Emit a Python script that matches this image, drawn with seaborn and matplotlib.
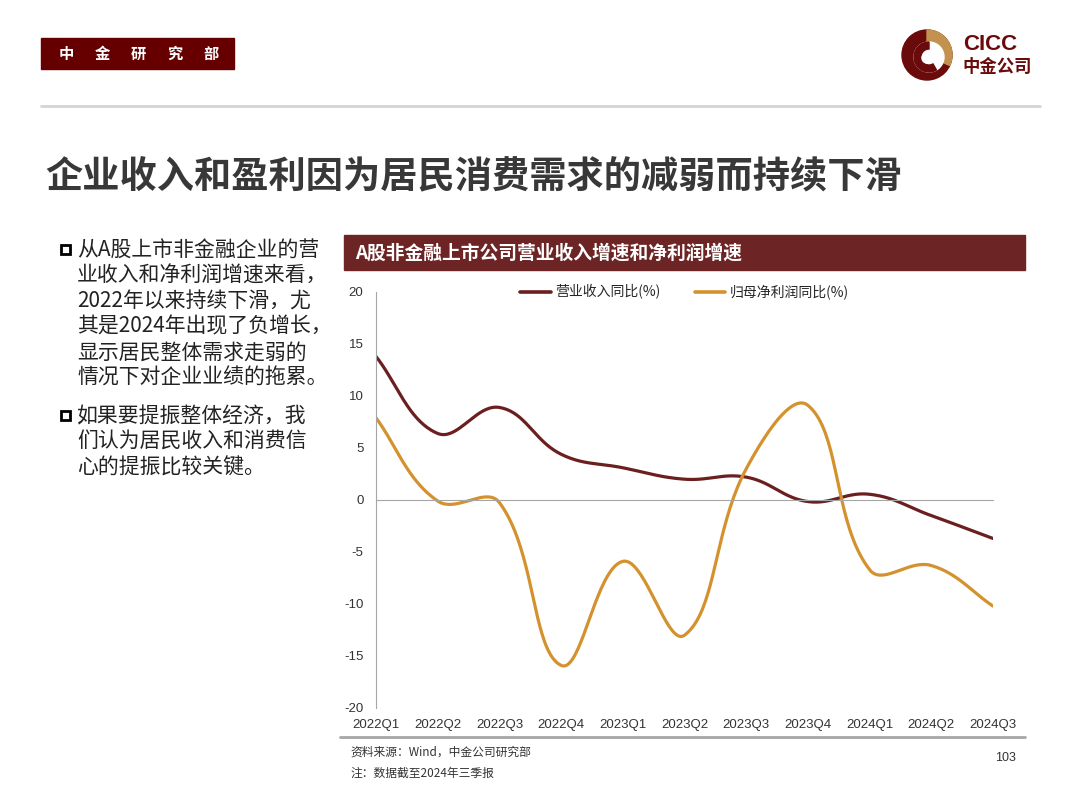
import numpy as np
import pandas as pd
import matplotlib
matplotlib.use("Agg")
import matplotlib.pyplot as plt
from matplotlib.patches import Rectangle, Circle, Wedge
import seaborn as sns

# ---- data ----
quarters = ["2022Q1", "2022Q2", "2022Q3", "2022Q4", "2023Q1", "2023Q2",
            "2023Q3", "2023Q4", "2024Q1", "2024Q2", "2024Q3"]
revenue_yoy = [13.8, 6.4, 8.9, 4.4, 3.1, 2.0, 2.2, -0.15, 0.55, -1.5, -3.7]
profit_yoy = [7.9, -0.1, -0.25, -15.9, -5.9, -13.0, 3.0, 9.1, -6.7, -6.3, -10.2]
series_names = ["营业收入同比(%)", "归母净利润同比(%)"]
yticks = [-20, -15, -10, -5, 0, 5, 10, 15, 20]

title = "企业收入和盈利因为居民消费需求的减弱而持续下滑"
chart_title = "A股非金融上市公司营业收入增速和净利润增速"
bullet1 = ["从A股上市非金融企业的营", "业收入和净利润增速来看，",
           "2022年以来持续下滑，尤", "其是2024年出现了负增长，",
           "显示居民整体需求走弱的", "情况下对企业业绩的拖累。"]
bullet2 = ["如果要提振整体经济，我", "们认为居民收入和消费信", "心的提振比较关键。"]
source_note = "资料来源：Wind，中金公司研究部"
data_note = "注：数据截至2024年三季报"
page_no = "103"

DARK_RED = "#6b1f1f"
GOLD = "#d4922e"
CJK = ["Noto Sans CJK SC", "DejaVu Sans"]

# pixel size of one category step / one y unit in the chart area
XS, YS = 61.7, 10.4


def smooth(vals, n=40, t=0.4):
    # bezier smoothing in screen space, similar to Excel's smoothed line
    P = np.column_stack([np.arange(len(vals)) * XS, np.asarray(vals, float) * YS])
    m = len(P)
    c_in, c_out = np.zeros_like(P), np.zeros_like(P)
    for i in range(m):
        if 0 < i < m - 1:
            d01 = np.linalg.norm(P[i] - P[i - 1])
            d12 = np.linalg.norm(P[i + 1] - P[i])
            tan = P[i + 1] - P[i - 1]
            c_in[i] = P[i] - t * d01 / (d01 + d12) * tan
            c_out[i] = P[i] + t * d12 / (d01 + d12) * tan
    c_out[0] = P[0] + (P[1] - P[0]) / 3
    c_in[-1] = P[-1] - (P[-1] - P[-2]) / 3
    pts = []
    for i in range(m - 1):
        s = np.linspace(0, 1, n, endpoint=(i == m - 2))[:, None]
        b = ((1 - s) ** 3 * P[i] + 3 * (1 - s) ** 2 * s * c_out[i]
             + 3 * (1 - s) * s ** 2 * c_in[i + 1] + s ** 3 * P[i + 1])
        pts.append(b)
    pts = np.vstack(pts)
    return pts[:, 0] / XS, pts[:, 1] / YS


frames = []
for name, vals in zip(series_names, [revenue_yoy, profit_yoy]):
    sx, sy = smooth(vals)
    frames.append(pd.DataFrame({"x": sx, "v": sy, "series": name}))
df = pd.concat(frames, ignore_index=True)

sns.set_style("white")
plt.rcParams["font.family"] = ["Liberation Sans", "Noto Sans CJK SC", "DejaVu Sans"]
plt.rcParams["axes.unicode_minus"] = False

W, H = 1080, 810
fig = plt.figure(figsize=(W / 100, H / 100), dpi=100)

# overlay in pixel coordinates for the slide decorations
bg = fig.add_axes([0, 0, 1, 1])
bg.set_xlim(0, W)
bg.set_ylim(0, H)
bg.axis("off")


def Y(y):
    return H - y


# header box
bg.add_patch(Rectangle((41, Y(69)), 193, 31, color="#660000"))
for cx, ch in zip([66, 102, 138, 175, 211], "中金研究部"):
    bg.text(cx, Y(54), ch, color="white", fontsize=11, fontweight="bold",
            ha="center", va="center", family=CJK)

# logo
lc = (927, Y(55))
bg.add_patch(Circle(lc, 25, color="#6b0a0a"))
bg.add_patch(Wedge(lc, 25, -25, 90, color="#c4924f"))
bg.add_patch(Circle((929, Y(57)), 15, color="white"))
bg.add_patch(Wedge((929, Y(57)), 15, 90, 300, width=7, color="#6b0a0a"))
bg.add_patch(Circle((927, Y(58)), 5, color="white"))
bg.text(963, Y(45), "CICC", color="#6b0a0a", fontsize=16, fontweight="bold",
        ha="left", va="center", family=["Liberation Sans"])
bg.text(962, Y(67), "中金公司", color="#6b0a0a", fontsize=12.5, fontweight="bold",
        ha="left", va="center", family=CJK)

# separator line
bg.plot([41, 1040], [Y(106), Y(106)], color="#d4d4d4", lw=2)

# title
bg.text(45, Y(178), title, fontsize=26.8, color="#383838", fontweight="bold",
        ha="left", va="center", family=CJK)

# bullets
for lines, y0 in [(bullet1, 250), (bullet2, 416)]:
    bg.add_patch(Rectangle((61, Y(y0 + 4)), 9, 9, fill=False, ec="black", lw=2))
    for k, line in enumerate(lines):
        bg.text(77, Y(y0 + k * 25.6), line, fontsize=15, color="#222222",
                ha="left", va="center", family=CJK)

# chart header bar
bg.add_patch(Rectangle((344, Y(270)), 681, 35, color="#6d2424"))
bg.text(355, Y(253), chart_title, color="white", fontsize=13.5, fontweight="bold",
        ha="left", va="center", family=CJK)

# footer
bg.plot([340, 1025], [Y(737), Y(737)], color="#a6a6a6", lw=2)
bg.text(350, Y(752), source_note, fontsize=8.5, color="#333333", ha="left",
        va="center", family=CJK)
bg.text(350, Y(773), data_note, fontsize=8.5, color="#333333", ha="left",
        va="center", family=CJK)
bg.text(1016, Y(758), page_no, fontsize=9, color="#333333", ha="right",
        va="center")

# ---- chart ----
ax = fig.add_axes([376 / W, 1 - 708 / H, (993 - 376) / W, (708 - 292) / H])
ax.set_facecolor("none")
sns.lineplot(data=df, x="x", y="v", hue="series", hue_order=series_names,
             palette=[DARK_RED, GOLD], sort=False, estimator=None, lw=2.3, ax=ax)

ax.set_xlim(0, len(quarters) - 1)
ax.set_ylim(-20, 20)
ax.set_yticks(yticks)
ax.set_xticks(range(len(quarters)))
ax.tick_params(axis="x", direction="in", length=5, color="#a6a6a6",
               labelbottom=False)
ax.tick_params(axis="y", direction="out", length=4, color="#a6a6a6",
               labelsize=9.5, labelcolor="#333333", pad=5)
for s in ["top", "right"]:
    ax.spines[s].set_visible(False)
ax.spines["bottom"].set_position(("data", 0))
ax.spines["bottom"].set_color("#a6a6a6")
ax.spines["left"].set_color("#a6a6a6")
ax.set_xlabel("")
ax.set_ylabel("")

sec = ax.secondary_xaxis(0)
sec.set_xticks(range(len(quarters)), labels=quarters)
sec.tick_params(length=0, labelsize=9.5, labelcolor="#333333", pad=8)
sec.spines["bottom"].set_visible(False)

leg = ax.legend(loc="center", bbox_to_anchor=(0.5, 1.0), ncol=2, frameon=False,
                prop={"family": CJK, "size": 10}, handlelength=2.2,
                columnspacing=2.5, handletextpad=0.3)
for line in leg.get_lines():
    line.set_linewidth(2.6)

fig.savefig("out.png", dpi=100)
